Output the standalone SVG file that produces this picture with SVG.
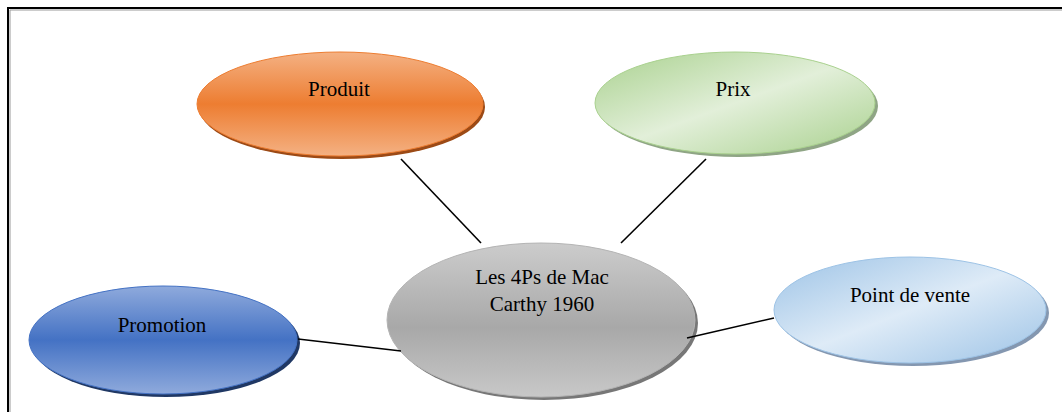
<svg xmlns="http://www.w3.org/2000/svg" width="1062" height="412" viewBox="0 0 1062 412">
<style>
.lbl{font-family:"Liberation Serif","Times New Roman",serif;font-size:21px;fill:#000;text-anchor:middle}
.conn{stroke:#000;stroke-width:1.6;fill:none}
</style>
<defs>
<linearGradient id="gOr" x1="0" y1="0" x2="0" y2="1">
<stop offset="0" stop-color="#f4b183"/><stop offset="0.5" stop-color="#ed7d31"/><stop offset="1" stop-color="#f4b183"/>
</linearGradient>
<linearGradient id="gBl" x1="0" y1="0" x2="0" y2="1">
<stop offset="0" stop-color="#8faadc"/><stop offset="0.5" stop-color="#4472c4"/><stop offset="1" stop-color="#8faadc"/>
</linearGradient>
<linearGradient id="gGy" x1="0" y1="0" x2="0" y2="1">
<stop offset="0" stop-color="#cccccc"/><stop offset="0.55" stop-color="#a8a8a8"/><stop offset="1" stop-color="#c8c8c8"/>
</linearGradient>
<linearGradient id="gGr" x1="0" y1="0" x2="1" y2="1">
<stop offset="0" stop-color="#a9d18e"/><stop offset="0.5" stop-color="#e2efd9"/><stop offset="1" stop-color="#a9d18e"/>
</linearGradient>
<linearGradient id="gLb" x1="0" y1="0" x2="1" y2="1">
<stop offset="0" stop-color="#9dc3e6"/><stop offset="0.5" stop-color="#deebf7"/><stop offset="1" stop-color="#9dc3e6"/>
</linearGradient>
</defs>
<rect width="1062" height="412" fill="#fff"/>
<path d="M8 420 V8 H1070" fill="none" stroke="#000" stroke-width="2"/>
<path d="M10 420 V10 H1070" fill="none" stroke="#999" stroke-width="1"/>
<g id="produit">
<ellipse cx="342" cy="107" rx="143" ry="52" fill="#9c4a16"/>
<ellipse cx="340" cy="104" rx="143" ry="52" fill="url(#gOr)" stroke="#ed7d31" stroke-width="1"/>
<text class="lbl" x="339" y="96">Produit</text>
</g>
<g id="prix">
<ellipse cx="738" cy="106" rx="140" ry="51" fill="#8fa585"/>
<ellipse cx="735" cy="103" rx="140" ry="51" fill="url(#gGr)" stroke="#a9d18e" stroke-width="1"/>
<text class="lbl" x="733" y="96">Prix</text>
</g>
<g id="centre">
<ellipse cx="544" cy="323" rx="154" ry="77" fill="#777"/>
<ellipse cx="541" cy="320" rx="154" ry="77" fill="url(#gGy)" stroke="#b4b4b4" stroke-width="1"/>
<text class="lbl" x="542" y="284">Les 4Ps de Mac</text>
<text class="lbl" x="542" y="311">Carthy 1960</text>
</g>
<g id="promotion">
<ellipse cx="166" cy="343" rx="134" ry="54" fill="#203864"/>
<ellipse cx="163" cy="340" rx="134" ry="54" fill="url(#gBl)" stroke="#4472c4" stroke-width="1"/>
<text class="lbl" x="162" y="332">Promotion</text>
</g>
<g id="point-de-vente">
<ellipse cx="913" cy="313" rx="136" ry="53" fill="#8497b0"/>
<ellipse cx="910" cy="310" rx="136" ry="53" fill="url(#gLb)" stroke="#9dc3e6" stroke-width="1"/>
<text class="lbl" x="910" y="302">Point de vente</text>
</g>
<g id="connectors">
<line class="conn" x1="401" y1="159" x2="481" y2="243"/>
<line class="conn" x1="706" y1="159" x2="621" y2="243"/>
<line class="conn" x1="298" y1="339" x2="401" y2="351"/>
<line class="conn" x1="774" y1="318" x2="687" y2="338"/>
</g>
</svg>
